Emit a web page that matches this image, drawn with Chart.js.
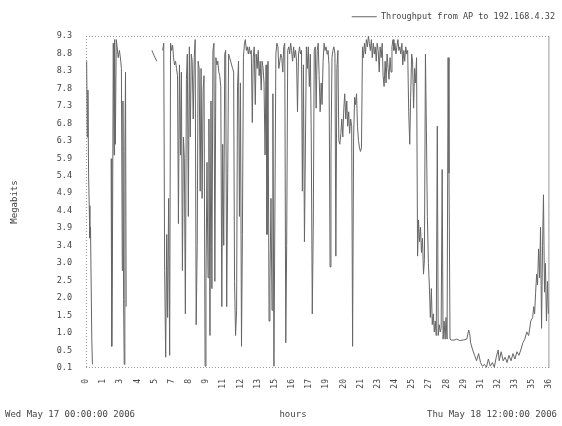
<!DOCTYPE html>
<html lang="en">
<head>
<meta charset="UTF-8">
<title>Throughput from AP</title>
<script src="https://cdn.jsdelivr.net/npm/chart.js"></script>
<style>
  body { margin: 0; background: #fff; }
  #wrap { width: 562px; height: 426px; }
</style>
</head>
<body>
<div id="wrap"><canvas id="tp" width="562" height="426"></canvas></div>
<script>
const seriesName = 'Throughput from AP to 192.168.4.32';
const startLabel = 'Wed May 17 00:00:00 2006';
const endLabel = 'Thu May 18 12:00:00 2006';

// hours since start / throughput in Mbit (null = no sample)
const hours = [
  0.05, 0.10, 0.15, 0.20, 0.25, 0.30, 0.35, 0.45, 0.50, 0.60,
  1.95, 2.00, 2.05, 2.12, 2.18, 2.22, 2.28, 2.35, 2.42, 2.50, 2.60, 2.70, 2.75, 2.82, 2.87, 2.92, 2.97, 3.02, 3.07, 3.12, 3.30,
  5.12, 5.30, 5.50, 5.70,
  5.96, 6.04, 6.11, 6.19, 6.27, 6.34, 6.42, 6.50, 6.57, 6.65, 6.73, 6.80, 6.88, 6.96, 7.03, 7.11, 7.18, 7.26, 7.34, 7.41,
  7.49, 7.57, 7.64, 7.72, 7.80, 7.87, 7.95, 8.03, 8.10, 8.18, 8.25, 8.33, 8.41, 8.48, 8.56, 8.64, 8.71, 8.79, 8.87, 8.94,
  9.02, 9.10, 9.17, 9.25, 9.32, 9.40, 9.48, 9.55, 9.63, 9.71, 9.78, 9.86, 9.94, 10.01, 10.09, 10.17, 10.24, 10.32, 10.39, 10.47,
  10.55, 10.62, 10.70, 10.78, 10.85, 10.93, 11.01, 11.08, 11.16, 11.24, 11.31, 11.39, 11.47, 11.54, 11.62, 11.70, 11.77, 11.85, 11.92, 12.00,
  12.08, 12.15, 12.23, 12.31, 12.38, 12.46, 12.53, 12.61, 12.69, 12.76, 12.84, 12.92, 12.99, 13.07, 13.15, 13.22, 13.30, 13.38, 13.45, 13.53,
  13.61, 13.68, 13.76, 13.83, 13.91, 13.99, 14.06, 14.14, 14.22, 14.29, 14.37, 14.45, 14.52, 14.60, 14.68, 14.75, 14.83, 14.91, 14.98, 15.06,
  15.13, 15.21, 15.29, 15.36, 15.44, 15.52, 15.59, 15.67, 15.75, 15.82, 15.90, 15.97, 16.05, 16.13, 16.20, 16.28, 16.36, 16.43, 16.51, 16.59,
  16.66, 16.74, 16.81, 16.89, 16.97, 17.04, 17.12, 17.20, 17.27, 17.35, 17.43, 17.50, 17.58, 17.66, 17.73, 17.81, 17.88, 17.96, 18.04, 18.11,
  18.19, 18.27, 18.34, 18.42, 18.50, 18.57, 18.65, 18.73, 18.80, 18.88, 18.96, 19.03, 19.11, 19.18, 19.26, 19.34, 19.41, 19.49, 19.57, 19.64,
  19.72, 19.80, 19.87, 19.95, 20.03, 20.10, 20.18, 20.26, 20.33, 20.41, 20.48, 20.56, 20.64, 20.71, 20.79, 20.87, 20.94, 21.02, 21.09, 21.17,
  21.25, 21.32, 21.40, 21.48, 21.55, 21.63, 21.71, 21.78, 21.86, 21.94, 22.01, 22.09, 22.17, 22.24, 22.32, 22.40, 22.47, 22.55, 22.62, 22.70,
  22.78, 22.85, 22.93, 23.01, 23.08, 23.16, 23.24, 23.31, 23.39, 23.47, 23.54, 23.62, 23.70, 23.77, 23.85, 23.92, 24.00, 24.08, 24.15, 24.23,
  24.31, 24.38, 24.46, 24.54, 24.61, 24.69, 24.76, 24.84, 24.92, 24.99, 25.07, 25.15, 25.22, 25.30, 25.37, 25.45, 25.53, 25.60, 25.68, 25.76,
  25.83, 25.91, 25.99, 26.06, 26.14, 26.22, 26.29, 26.37, 26.45, 26.52, 26.60, 26.67, 26.75, 26.83, 26.90, 26.98, 27.06, 27.13, 27.21, 27.29,
  27.36, 27.44, 27.52, 27.59, 27.67, 27.74, 27.82, 27.90, 27.97, 28.05, 28.13, 28.20, 28.28, 28.36, 28.58, 28.81, 29.04, 29.35, 29.58, 29.73,
  29.81, 29.88, 30.04, 30.19, 30.34, 30.50, 30.65, 30.80, 30.96, 31.11, 31.26, 31.41, 31.57, 31.72, 31.87, 32.02, 32.10, 32.25, 32.41, 32.56,
  32.71, 32.86, 33.02, 33.17, 33.32, 33.48, 33.63, 33.78, 33.94, 34.09, 34.24, 34.39, 34.55, 34.70, 34.78, 34.85, 34.93, 35.01, 35.08, 35.16,
  35.24, 35.31, 35.39, 35.47, 35.54, 35.62, 35.69, 35.77, 35.85, 35.92
];
const mbits = [
  8.6, 6.5, 7.8, 5.5, 4.6, 3.7, 4.0, 0.9, 0.2, null,
  5.9, 0.7, 2.9, 9.1, 6.0, 9.2, 6.3, 9.2, 9.0, 8.7, 8.9, 8.6, 8.4, 2.8, 7.5, 2.0, 0.2, 6.1, 8.3, 1.8, null,
  8.9, 8.75, 8.6, null,
  8.9, 9.1, 2.8, 0.4, 3.8, 1.5, 4.8, 0.45, 9.1, 8.9, 9.05, 8.7, 8.5, 8.6, 8.4, 8.2, 4.1, 8.5, 6.0, 8.3,
  2.8, 6.5, 5.9, 1.6, 8.1, 8.8, 4.3, 9.0, 6.5, 8.8, 8.6, 7.0, 8.7, 9.2, 1.3, 3.5, 8.6, 8.4, 5.0, 8.4,
  4.8, 7.8, 8.2, 0.15, 2.5, 5.8, 2.6, 7.0, 1.0, 7.5, 2.3, 8.9, 9.1, 2.5, 8.7, 8.5, 8.6, 8.3, 8.2, 7.9,
  1.8, 6.3, 3.5, 8.8, 8.9, 1.8, 5.5, 8.8, 8.7, 8.6, 8.5, 8.4, 8.3, 2.5, 1.0, 1.7, 7.9, 8.6, 4.3, 8.0,
  0.7, 3.8, 8.7, 9.1, 9.2, 8.9, 9.0, 8.8, 9.0, 8.8, 8.9, 6.9, 8.7, 9.0, 7.4, 8.8, 8.4, 8.9, 8.2, 8.6,
  7.8, 8.6, 8.4, 8.0, 6.0, 8.5, 3.8, 8.6, 1.4, 2.5, 4.8, 1.7, 7.7, 0.15, 4.7, 8.8, 9.1, 9.0, 8.4, 8.6,
  8.8, 8.7, 8.3, 9.0, 9.1, 0.8, 3.5, 8.9, 9.0, 8.8, 9.1, 8.9, 8.6, 9.0, 8.7, 8.9, 8.6, 7.2, 8.8, 9.0,
  8.8, 8.9, 5.0, 8.5, 3.6, 6.0, 9.0, 8.4, 9.0, 7.9, 8.8, 6.5, 1.6, 4.2, 8.9, 9.0, 7.3, 8.9, 9.1, 8.2,
  7.2, 8.0, 7.4, 8.6, 9.1, 8.9, 9.0, 8.8, 8.9, 8.5, 2.9, 6.0, 8.7, 8.9, 9.0, 8.8, 3.2, 8.4, 8.9, 6.4,
  6.3, 6.6, 7.0, 6.5, 7.3, 7.7, 7.0, 7.5, 6.8, 7.2, 6.6, 7.0, 6.8, 0.7, 6.5, 7.6, 7.4, 7.7, 6.8, 6.4,
  6.2, 6.1, 6.2, 9.0, 8.7, 9.1, 8.8, 9.2, 9.0, 9.3, 9.1, 8.9, 9.2, 8.7, 9.1, 8.8, 9.0, 8.6, 9.1, 8.9,
  8.3, 9.0, 8.7, 9.1, 8.2, 7.9, 8.6, 8.0, 8.8, 8.4, 8.1, 8.7, 8.3, 9.0, 9.2, 8.9, 9.1, 8.8, 9.0, 9.2,
  8.9, 9.0, 8.8, 9.1, 8.5, 8.9, 8.6, 9.0, 8.8, 8.9, 7.2, 6.3, 7.6, 8.8, 8.6, 7.3, 8.4, 8.0, 8.7, 3.2,
  4.2, 3.6, 4.0, 3.3, 3.7, 2.7, 3.1, 8.8, 6.5, 4.3, 3.0, 2.4, 1.5, 2.3, 1.3, 1.6, 1.1, 1.4, 1.0, 6.8,
  1.0, 1.3, 1.1, 1.2, 5.6, 0.9, 1.4, 0.9, 1.5, 0.9, 8.7, 5.5, 0.9, 0.88, 0.87, 0.9, 0.86, 0.88, 0.9, 1.15,
  1.05, 0.8, 0.6, 0.45, 0.3, 0.5, 0.25, 0.15, 0.2, 0.12, 0.35, 0.15, 0.25, 0.12, 0.4, 0.6, 0.3, 0.55, 0.3, 0.4,
  0.25, 0.45, 0.3, 0.5, 0.35, 0.55, 0.45, 0.6, 0.8, 0.9, 1.1, 1.0, 1.4, 1.5, 1.8, 1.6, 2.2, 2.7, 2.4, 3.4,
  2.6, 4.0, 1.2, 3.5, 4.9, 2.2, 3.0, 1.4, 2.5, 1.6
];

const xTickLabels = ['0', '1', '3', '4', '5', '7', '8', '9', '11', '12', '13', '15', '16', '17',
  '19', '20', '21', '23', '24', '25', '27', '28', '29', '31', '32', '33', '35', '36'];
const yTickLabels = ['0.1', '0.5', '1.0', '1.5', '2.0', '2.5', '3.0', '3.4', '3.9', '4.4',
  '4.9', '5.4', '5.9', '6.3', '6.8', '7.3', '7.8', '8.3', '8.8', '9.3'];

const xMax = 36;
const yMin = 0.1, yMax = 9.3;
const mono = 'DejaVu Sans Mono';
const textColor = '#444';

// dotted frame round the plot, solid on the right like the original
const framePlugin = {
  id: 'frame',
  afterLayout(chart) {
    // legend sits a bit higher above the plot than chart.js would put it
    const l = chart.legend;
    if (l) { l.top -= 5; l.bottom -= 5; }
  },
  beforeDatasetsDraw(chart) {
    const { ctx, chartArea: a } = chart;
    ctx.save();
    ctx.strokeStyle = '#999';
    ctx.lineWidth = 1;
    ctx.setLineDash([1, 2]);
    ctx.beginPath();
    ctx.moveTo(a.left, a.top + 0.5); ctx.lineTo(a.right, a.top + 0.5);
    ctx.moveTo(a.left, a.bottom - 0.5); ctx.lineTo(a.right, a.bottom - 0.5);
    ctx.moveTo(a.left + 0.5, a.top); ctx.lineTo(a.left + 0.5, a.bottom);
    ctx.stroke();
    ctx.setLineDash([]);
    ctx.beginPath();
    ctx.moveTo(a.right - 0.5, a.top); ctx.lineTo(a.right - 0.5, a.bottom);
    ctx.stroke();
    ctx.restore();
  }
};

// start / end timestamps and the "hours" caption under the axis
const footerPlugin = {
  id: 'footer',
  afterDraw(chart) {
    const ctx = chart.ctx;
    ctx.save();
    ctx.font = '9px "' + mono + '"';
    ctx.fillStyle = textColor;
    ctx.textBaseline = 'middle';
    ctx.textAlign = 'left';
    ctx.fillText(startLabel, 5, 415);
    ctx.textAlign = 'center';
    ctx.fillText('hours', 293, 415);
    ctx.textAlign = 'right';
    ctx.fillText(endLabel, 557, 415);
    ctx.restore();
  }
};

const points = hours.map((h, i) => ({ x: h, y: mbits[i] }));

new Chart(document.getElementById('tp'), {
  type: 'line',
  data: {
    datasets: [{
      label: seriesName,
      data: points,
      borderColor: '#666',
      backgroundColor: '#666',
      borderWidth: 1,
      pointRadius: 0,
      tension: 0,
      spanGaps: false
    }]
  },
  options: {
    responsive: false,
    animation: false,
    events: [],
    layout: { padding: { top: 4, right: 5, bottom: 0, left: 0 } },
    plugins: {
      tooltip: { enabled: false },
      legend: {
        position: 'top',
        align: 'end',
        labels: {
          usePointStyle: true,
          pointStyle: 'line',
          pointStyleWidth: 25,
          color: textColor,
          font: { family: mono, size: 8.5 },
          padding: 2
        }
      }
    },
    scales: {
      x: {
        type: 'linear',
        min: 0,
        max: xMax,
        grid: { display: false },
        border: { display: false },
        afterFit: s => { s.height = 58; },
        afterBuildTicks: s => {
          s.ticks = xTickLabels.map((t, i) => ({ value: i * xMax / (xTickLabels.length - 1) }));
        },
        ticks: {
          autoSkip: false,
          minRotation: 90,
          maxRotation: 90,
          padding: 3,
          color: textColor,
          font: { family: mono, size: 8 },
          callback: (v, i) => xTickLabels[i]
        }
      },
      y: {
        min: yMin,
        max: yMax,
        grid: { display: false },
        border: { display: false },
        afterFit: s => { s.width = 86; s.paddingTop = 36; },
        afterBuildTicks: s => {
          s.ticks = yTickLabels.map((t, i) => ({ value: yMin + i * (yMax - yMin) / (yTickLabels.length - 1) }));
        },
        title: {
          display: true,
          text: 'Megabits',
          color: textColor,
          font: { family: mono, size: 9 },
          padding: { top: 9, bottom: 0 }
        },
        ticks: {
          padding: 6,
          color: textColor,
          font: { family: mono, size: 8.5 },
          callback: (v, i) => yTickLabels[i]
        }
      }
    }
  },
  plugins: [framePlugin, footerPlugin]
});
</script>
</body>
</html>
